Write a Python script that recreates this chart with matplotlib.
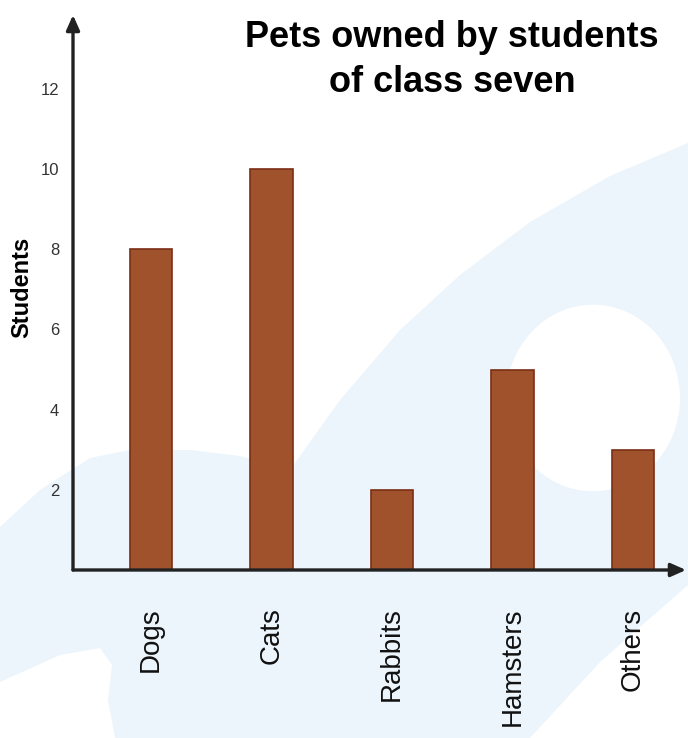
import matplotlib
matplotlib.use("Agg")
import matplotlib.pyplot as plt
from matplotlib.patches import Polygon, Circle

# ------------------------------------------
# Data
# ------------------------------------------

pets = ["Dogs", "Cats", "Rabbits", "Hamsters", "Others"]
students = [8, 10, 2, 5, 3]
y_ticks = [2, 4, 6, 8, 10, 12]

W, H = 688, 738

plt.rcParams["font.family"] = ["Liberation Sans", "DejaVu Sans"]

fig = plt.figure(figsize=(W / 100, H / 100), dpi=100)
fig.patch.set_facecolor("white")


def px(x, y):
    # pixel position (from top-left) -> figure fraction
    return (x / W, 1 - y / H)


# ------------------------------------------
# Watermark background
# ------------------------------------------

blue_shape = [
    (0, 527), (40, 490), (90, 458), (130, 450), (190, 450), (240, 456),
    (290, 470), (340, 400), (400, 330), (460, 275), (530, 222), (610, 176),
    (688, 143), (688, 585), (600, 662), (530, 738), (115, 738), (108, 700),
    (112, 665), (100, 648), (60, 655), (0, 682),
]
fig.add_artist(Polygon([px(*p) for p in blue_shape], closed=True,
                       transform=fig.transFigure, facecolor="#ECF5FC",
                       edgecolor="none", zorder=-2))
fig.add_artist(Circle(px(593, 398), 87 / W, transform=fig.transFigure,
                      facecolor="white", edgecolor="none", zorder=-1))

# ------------------------------------------
# Axes
# ------------------------------------------

left, right, top, bottom = 73, 686, 15, 570
ax = fig.add_axes([left / W, 1 - bottom / H, (right - left) / W, (bottom - top) / H])
ax.patch.set_alpha(0)

x = list(range(len(pets)))
ax.bar(x, students, width=0.35, color="#A0522D", edgecolor="#7A2E14",
       linewidth=1.2, zorder=2)

unit = 40.1  # pixels per student
ax.set_xlim(-0.647, -0.647 + (right - left) / 120.5)
ax.set_ylim(0, (bottom - top) / unit)

for s in ax.spines.values():
    s.set_visible(False)

ax.set_yticks(y_ticks)
ax.set_yticklabels([str(t) for t in y_ticks], fontsize=12, color="#333333")
ax.set_xticks(x)
ax.set_xticklabels(pets, rotation=90, fontsize=20, color="#111111")
ax.tick_params(axis="y", length=0, pad=10)
ax.tick_params(axis="x", length=0, pad=27)

arrow = dict(arrowstyle="-|>,head_length=0.9,head_width=0.4", lw=2.4,
             color="#222222", shrinkA=0, shrinkB=0)
ax.annotate("", xy=(0, 1), xytext=(0, 0), xycoords="axes fraction",
            arrowprops=arrow, annotation_clip=False, zorder=3)
ax.annotate("", xy=(1, 0), xytext=(0, 0), xycoords="axes fraction",
            arrowprops=arrow, annotation_clip=False, zorder=3)

# ------------------------------------------
# Text
# ------------------------------------------

fig.text(*px(22, 287), "Students", rotation=90, fontsize=17, fontweight="bold",
         ha="center", va="center")
fig.text(*px(452, 47), "Pets owned by students", fontsize=26,
         fontweight="bold", ha="center", va="baseline")
fig.text(*px(452, 92), "of class seven", fontsize=26,
         fontweight="bold", ha="center", va="baseline")

fig.savefig("out.png", dpi=100)
